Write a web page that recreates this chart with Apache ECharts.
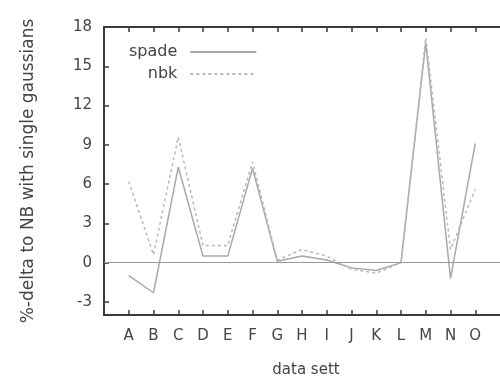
<!DOCTYPE html>
<html>
<head>
<meta charset="utf-8">
<script src="https://cdn.jsdelivr.net/npm/echarts@6/dist/echarts.min.js"></script>
<style>
    html, body { margin: 0; padding: 0; background: #fff; }
    #chart { width: 500px; height: 376px; }
</style>
</head>
<body>
<div id="chart"></div>
<script>
// data sets A..O, plotted at x = 1..15
const categories = ['A','B','C','D','E','F','G','H','I','J','K','L','M','N','O'];
const spade = [-1.0, -2.3, 7.3, 0.5, 0.5, 7.2, 0.1, 0.5, 0.2, -0.4, -0.6, 0.0, 16.8, -1.2, 9.1];
const nbk   = [6.2, 0.6, 9.6, 1.3, 1.3, 7.7, 0.2, 1.0, 0.5, -0.5, -0.8, 0.0, 17.2, 1.0, 5.6];
const yTicks = [-3, 0, 3, 6, 9, 12, 15, 18];

const xPos = categories.map((c, i) => i + 1);
const pairs = arr => arr.map((v, i) => [i + 1, v]);

const AXIS = '#3a3a3a';
const TXT = '#444';
const FONT = 'DejaVu Sans';

const xAxisBase = {
    type: 'value',
    min: 0,
    max: 16,
    interval: 1,
    axisLine: { onZero: false, lineStyle: { color: AXIS, width: 2 } },
    axisTick: { inside: true, length: 5, customValues: xPos, lineStyle: { color: AXIS, width: 1.5 } },
    splitLine: { show: false },
};

const option = {
    animation: false,
    grid: { left: 104, top: 27, right: -14, bottom: 61 },
    legend: {
        orient: 'vertical',
        align: 'right',
        left: 124,
        top: 39,
        itemWidth: 66,
        itemHeight: 14,
        itemGap: 6,
        itemStyle: { opacity: 0 },
        textStyle: { color: TXT, fontSize: 16, fontFamily: FONT, padding: [0, 8, 0, 0] },
        data: ['spade', 'nbk'],
    },
    xAxis: [
        Object.assign({}, xAxisBase, {
            position: 'bottom',
            axisLabel: {
                customValues: xPos,
                formatter: v => categories[v - 1] || '',
                color: TXT, fontSize: 15, fontFamily: FONT, margin: 14,
            },
        }),
        Object.assign({}, xAxisBase, {
            position: 'top',
            axisLabel: { show: false },
        }),
    ],
    yAxis: {
        type: 'value',
        min: -4,
        max: 18,
        axisLine: { show: true, onZero: false, lineStyle: { color: AXIS, width: 2 } },
        axisTick: { inside: true, length: 5, customValues: yTicks, lineStyle: { color: AXIS, width: 1.5 } },
        axisLabel: { customValues: yTicks, color: TXT, fontSize: 15, fontFamily: FONT, margin: 12 },
        splitLine: { show: false },
    },
    graphic: [
        {
            type: 'text',
            x: 29, y: 171,
            rotation: Math.PI / 2,
            style: { text: '%-delta to NB with single gaussians', fill: TXT, font: '17px ' + FONT, textAlign: 'center', textVerticalAlign: 'middle' },
        },
        {
            type: 'text',
            x: 306, y: 370,
            style: { text: 'data sett', fill: TXT, font: '15px ' + FONT, textAlign: 'center', textVerticalAlign: 'middle' },
        },
    ],
    series: [
        {
            name: 'spade',
            type: 'line',
            data: pairs(spade),
            symbol: 'none',
            color: '#a8a8a8',
            lineStyle: { width: 1.5, color: '#a8a8a8' },
            markLine: {
                silent: true,
                symbol: 'none',
                label: { show: false },
                lineStyle: { color: '#9a9a9a', width: 1.2, type: 'solid' },
                data: [{ yAxis: 0 }],
            },
        },
        {
            name: 'nbk',
            type: 'line',
            data: pairs(nbk),
            symbol: 'none',
            color: '#b8b8b8',
            lineStyle: { width: 1.5, color: '#b8b8b8', type: [3, 3] },
        },
    ],
};

const chart = echarts.init(document.getElementById('chart'));
chart.setOption(option);
</script>
</body>
</html>
